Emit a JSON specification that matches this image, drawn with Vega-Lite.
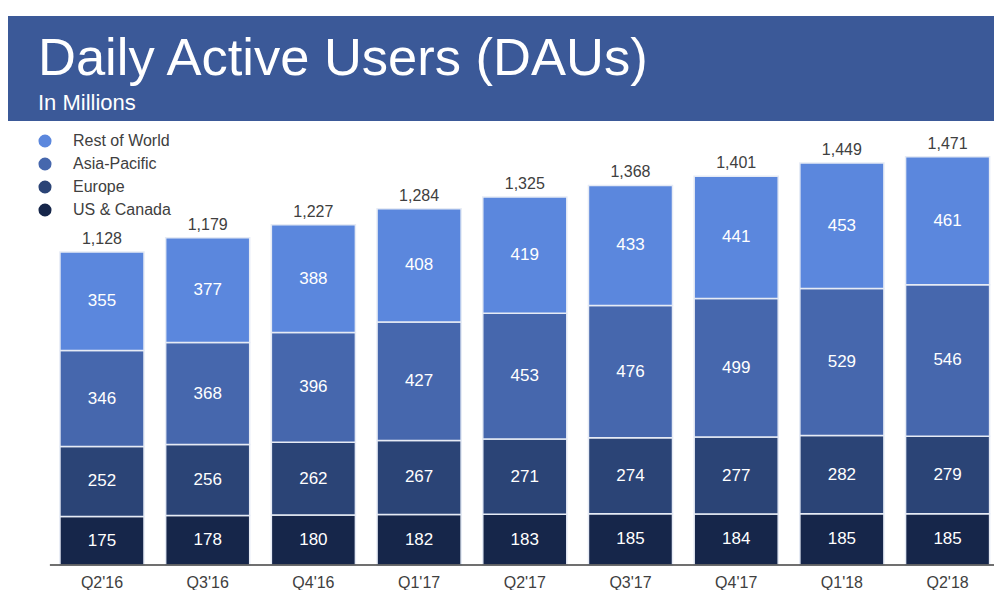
{
  "$schema": "https://vega.github.io/schema/vega-lite/v6.json",
  "background": "white",
  "padding": {"left": 8, "top": 16, "right": 0, "bottom": 0},
  "config": {
    "view": {"stroke": null},
    "font": "Liberation Sans",
    "concat": {"spacing": 0}
  },
  "datasets": {
    "segments": [
      {"quarter": "Q2'16", "region": "US & Canada", "order": 1, "value": 175},
      {"quarter": "Q2'16", "region": "Europe", "order": 2, "value": 252},
      {"quarter": "Q2'16", "region": "Asia-Pacific", "order": 3, "value": 346},
      {"quarter": "Q2'16", "region": "Rest of World", "order": 4, "value": 355},
      {"quarter": "Q3'16", "region": "US & Canada", "order": 1, "value": 178},
      {"quarter": "Q3'16", "region": "Europe", "order": 2, "value": 256},
      {"quarter": "Q3'16", "region": "Asia-Pacific", "order": 3, "value": 368},
      {"quarter": "Q3'16", "region": "Rest of World", "order": 4, "value": 377},
      {"quarter": "Q4'16", "region": "US & Canada", "order": 1, "value": 180},
      {"quarter": "Q4'16", "region": "Europe", "order": 2, "value": 262},
      {"quarter": "Q4'16", "region": "Asia-Pacific", "order": 3, "value": 396},
      {"quarter": "Q4'16", "region": "Rest of World", "order": 4, "value": 388},
      {"quarter": "Q1'17", "region": "US & Canada", "order": 1, "value": 182},
      {"quarter": "Q1'17", "region": "Europe", "order": 2, "value": 267},
      {"quarter": "Q1'17", "region": "Asia-Pacific", "order": 3, "value": 427},
      {"quarter": "Q1'17", "region": "Rest of World", "order": 4, "value": 408},
      {"quarter": "Q2'17", "region": "US & Canada", "order": 1, "value": 183},
      {"quarter": "Q2'17", "region": "Europe", "order": 2, "value": 271},
      {"quarter": "Q2'17", "region": "Asia-Pacific", "order": 3, "value": 453},
      {"quarter": "Q2'17", "region": "Rest of World", "order": 4, "value": 419},
      {"quarter": "Q3'17", "region": "US & Canada", "order": 1, "value": 185},
      {"quarter": "Q3'17", "region": "Europe", "order": 2, "value": 274},
      {"quarter": "Q3'17", "region": "Asia-Pacific", "order": 3, "value": 476},
      {"quarter": "Q3'17", "region": "Rest of World", "order": 4, "value": 433},
      {"quarter": "Q4'17", "region": "US & Canada", "order": 1, "value": 184},
      {"quarter": "Q4'17", "region": "Europe", "order": 2, "value": 277},
      {"quarter": "Q4'17", "region": "Asia-Pacific", "order": 3, "value": 499},
      {"quarter": "Q4'17", "region": "Rest of World", "order": 4, "value": 441},
      {"quarter": "Q1'18", "region": "US & Canada", "order": 1, "value": 185},
      {"quarter": "Q1'18", "region": "Europe", "order": 2, "value": 282},
      {"quarter": "Q1'18", "region": "Asia-Pacific", "order": 3, "value": 529},
      {"quarter": "Q1'18", "region": "Rest of World", "order": 4, "value": 453},
      {"quarter": "Q2'18", "region": "US & Canada", "order": 1, "value": 185},
      {"quarter": "Q2'18", "region": "Europe", "order": 2, "value": 279},
      {"quarter": "Q2'18", "region": "Asia-Pacific", "order": 3, "value": 546},
      {"quarter": "Q2'18", "region": "Rest of World", "order": 4, "value": 461}
    ],
    "totals": [
      {"quarter": "Q2'16", "total": 1128},
      {"quarter": "Q3'16", "total": 1179},
      {"quarter": "Q4'16", "total": 1227},
      {"quarter": "Q1'17", "total": 1284},
      {"quarter": "Q2'17", "total": 1325},
      {"quarter": "Q3'17", "total": 1368},
      {"quarter": "Q4'17", "total": 1401},
      {"quarter": "Q1'18", "total": 1449},
      {"quarter": "Q2'18", "total": 1471}
    ],
    "baseline": [
      {"first": "Q2'16", "last": "Q2'18", "zero": 0}
    ]
  },
  "spacing": 0,
  "vconcat": [
    {
      "width": 986,
      "height": 105,
      "view": {"fill": "#3b5998", "stroke": null},
      "title": {
        "text": "Daily Active Users (DAUs)",
        "subtitle": "In Millions",
        "anchor": "start",
        "orient": "top",
        "frame": "group",
        "offset": -99,
        "dx": 30,
        "font": "Liberation Sans",
        "fontSize": 52.5,
        "fontWeight": "normal",
        "color": "white",
        "subtitleFont": "Liberation Sans",
        "subtitleFontSize": 22,
        "subtitleColor": "white",
        "subtitlePadding": 7
      },
      "data": {"values": [{}]},
      "mark": {"type": "point", "opacity": 0},
      "encoding": {}
    },
    {
      "width": 986,
      "height": 444,
      "encoding": {
        "x": {
          "field": "quarter",
          "type": "nominal",
          "sort": null,
          "scale": {"paddingInner": 0.205, "paddingOuter": 0.2666, "align": 0.922},
          "axis": {
            "title": null,
            "labelAngle": 0,
            "ticks": false,
            "domain": false,
            "labelFontSize": 16,
            "labelColor": "#404040",
            "labelPadding": 9
          }
        }
      },
      "layer": [
        {
          "data": {"name": "segments"},
          "transform": [
            {"stack": "value", "groupby": ["quarter"], "sort": [{"field": "order", "order": "ascending"}], "as": ["v0", "v1"]}
          ],
          "mark": {"type": "bar", "stroke": "#e6ebf5", "strokeWidth": 1.5},
          "encoding": {
            "y": {
              "field": "v0",
              "type": "quantitative",
              "scale": {"domain": [0, 1600], "nice": false},
              "axis": null
            },
            "y2": {"field": "v1"},
            "color": {
              "field": "region",
              "type": "nominal",
              "scale": {
                "domain": ["Rest of World", "Asia-Pacific", "Europe", "US & Canada"],
                "range": ["#5b87dd", "#4667ad", "#2b4476", "#16264a"]
              },
              "legend": {
                "title": null,
                "orient": "none",
                "legendX": 29,
                "legendY": 117,
                "symbolType": "circle",
                "symbolSize": 170,
                "symbolStrokeWidth": 0,
                "symbolOpacity": 1,
                "labelFontSize": 16,
                "labelColor": "#404040",
                "labelOffset": 20,
                "rowPadding": 7
              }
            }
          }
        },
        {
          "data": {"name": "segments"},
          "transform": [
            {"stack": "value", "groupby": ["quarter"], "sort": [{"field": "order", "order": "ascending"}], "as": ["v0", "v1"]},
            {"calculate": "(datum.v0 + datum.v1) / 2", "as": "mid"}
          ],
          "mark": {"type": "text", "color": "white", "fontSize": 17, "baseline": "middle"},
          "encoding": {
            "y": {"field": "mid", "type": "quantitative"},
            "text": {"field": "value", "type": "quantitative"}
          }
        },
        {
          "data": {"name": "totals"},
          "mark": {"type": "text", "color": "#404040", "fontSize": 16, "baseline": "bottom", "dy": -5},
          "encoding": {
            "y": {"field": "total", "type": "quantitative"},
            "text": {"field": "total", "type": "quantitative", "format": ","}
          }
        },
        {
          "data": {"name": "baseline"},
          "mark": {"type": "rule", "color": "#404040", "strokeWidth": 1.5},
          "encoding": {
            "x": {"field": "first", "type": "nominal", "bandPosition": -0.12},
            "x2": {"field": "last", "bandPosition": 1.07},
            "y": {"field": "zero", "type": "quantitative"}
          }
        }
      ]
    }
  ]
}
